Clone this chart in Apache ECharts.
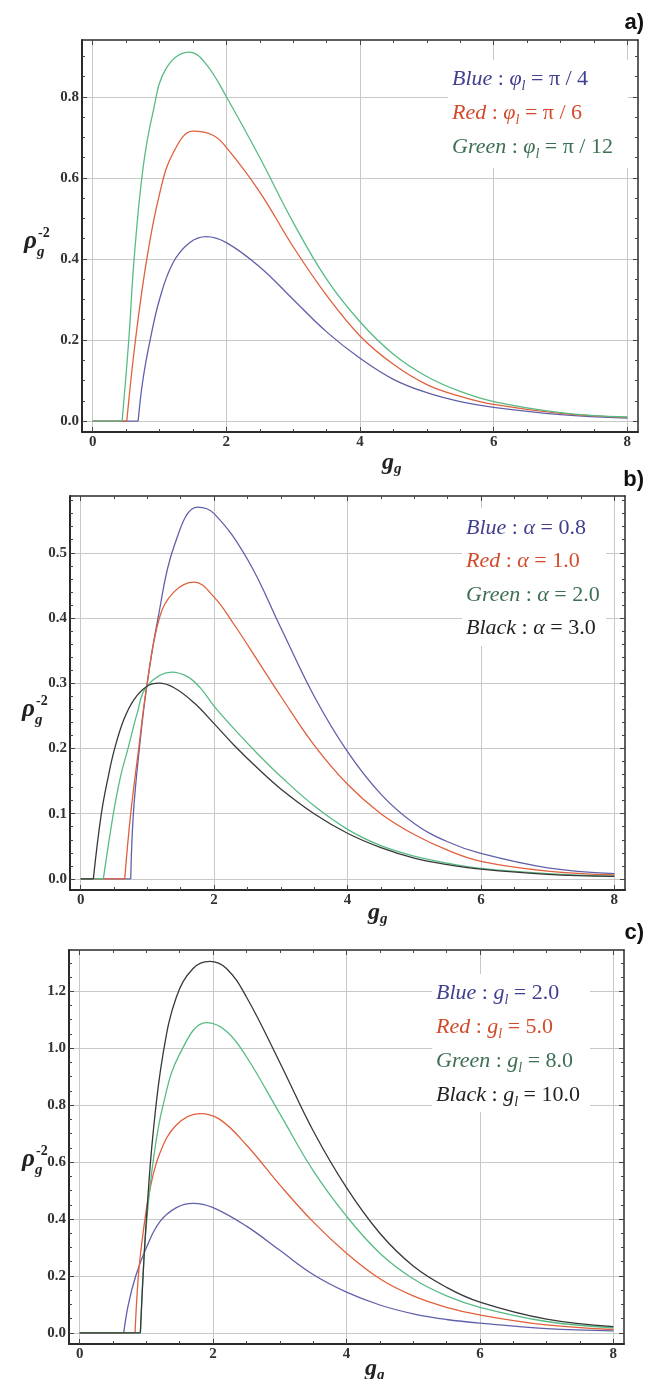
<!DOCTYPE html>
<html><head><meta charset="utf-8">
<script src="https://cdn.jsdelivr.net/npm/echarts@6/dist/echarts.min.js"></script>
<style>html,body{margin:0;padding:0;background:#fff}#c{width:650px;height:1379px}</style>
</head><body><div id="c"></div>
<script>
// ---- data ----
const xTicks = [0, 2, 4, 6, 8];
const aYTicks = [0, 0.2, 0.4, 0.6, 0.8];
const bYTicks = [0, 0.1, 0.2, 0.3, 0.4, 0.5];
const cYTicks = [0, 0.2, 0.4, 0.6, 0.8, 1.0, 1.2];

const aBlue = [[0,0],[0.68,0],[0.75,0.1],[0.86,0.2],[1.0,0.3],[1.2,0.39],[1.45,0.44],[1.7,0.455],[2.0,0.44],[2.5,0.38],[3.0,0.30],[3.5,0.22],[4.0,0.155],[4.5,0.103],[5.0,0.07],[5.5,0.048],[6.0,0.034],[7.0,0.016],[8.0,0.007]];
const aRed = [[0,0],[0.51,0],[0.64,0.2],[0.81,0.4],[1.0,0.56],[1.2,0.66],[1.5,0.715],[1.8,0.705],[2.0,0.675],[2.5,0.565],[3.0,0.43],[3.5,0.31],[4.0,0.21],[4.5,0.14],[5.0,0.09],[5.5,0.061],[6.0,0.041],[7.0,0.019],[8.0,0.009]];
const aGreen = [[0,0],[0.44,0],[0.54,0.2],[0.62,0.4],[0.75,0.62],[0.9,0.76],[1.1,0.87],[1.45,0.91],[1.7,0.88],[2.0,0.80],[2.5,0.65],[3.0,0.49],[3.5,0.35],[4.0,0.245],[4.5,0.165],[5.0,0.11],[5.5,0.073],[6.0,0.048],[7.0,0.021],[8.0,0.01]];

const bBlue = [[0,0],[0.75,0],[0.79,0.1],[0.88,0.2],[0.99,0.295],[1.16,0.4],[1.4,0.51],[1.75,0.57],[2.0,0.56],[2.5,0.49],[3.0,0.385],[3.5,0.28],[4.0,0.195],[4.5,0.13],[5.0,0.085],[5.5,0.057],[6.0,0.039],[7.0,0.017],[8.0,0.008]];
const bRed = [[0,0],[0.66,0],[0.75,0.1],[0.87,0.2],[0.99,0.295],[1.18,0.40],[1.4,0.44],[1.7,0.455],[2.0,0.432],[2.3,0.39],[2.67,0.332],[3.0,0.28],[3.5,0.205],[4.0,0.145],[4.5,0.1],[5.0,0.068],[5.5,0.044],[6.0,0.027],[7.0,0.012],[8.0,0.006]];
const bGreen = [[0,0],[0.34,0],[0.49,0.1],[0.6,0.158],[0.71,0.2],[0.85,0.255],[0.99,0.295],[1.36,0.317],[1.6,0.31],[1.8,0.292],[2.0,0.265],[2.3,0.23],[2.67,0.19],[3.0,0.157],[3.5,0.112],[4.0,0.076],[4.5,0.051],[5.0,0.035],[5.5,0.024],[6.0,0.016],[7.0,0.008],[8.0,0.004]];
const bBlack = [[0,0],[0.19,0],[0.31,0.1],[0.42,0.16],[0.51,0.2],[0.65,0.245],[0.8,0.275],[0.99,0.295],[1.17,0.30],[1.4,0.293],[1.7,0.27],[2.0,0.238],[2.3,0.205],[2.67,0.168],[3.0,0.138],[3.5,0.1],[4.0,0.07],[4.5,0.048],[5.0,0.032],[5.5,0.022],[6.0,0.015],[7.0,0.007],[8.0,0.004]];

const cBlue = [[0,0],[0.66,0],[0.73,0.1],[0.84,0.2],[1.0,0.3],[1.2,0.39],[1.45,0.44],[1.7,0.455],[2.0,0.44],[2.5,0.375],[3.0,0.29],[3.5,0.205],[4.0,0.143],[4.5,0.098],[5.0,0.067],[5.5,0.047],[6.0,0.034],[7.0,0.015],[8.0,0.007]];
const cRed = [[0,0],[0.83,0],[0.88,0.2],[0.95,0.35],[1.05,0.5],[1.2,0.63],[1.45,0.73],[1.8,0.77],[2.1,0.75],[2.5,0.66],[3.0,0.52],[3.5,0.39],[4.0,0.28],[4.5,0.19],[5.0,0.13],[5.5,0.09],[6.0,0.063],[7.0,0.028],[8.0,0.012]];
const cGreen = [[0,0],[0.91,0],[0.95,0.2],[1.0,0.38],[1.1,0.6],[1.25,0.8],[1.5,0.98],[1.9,1.09],[2.2,1.06],[2.5,0.97],[3.0,0.77],[3.5,0.57],[4.0,0.41],[4.5,0.28],[5.0,0.19],[5.5,0.13],[6.0,0.09],[7.0,0.04],[8.0,0.018]];
const cBlack = [[0,0],[0.91,0],[0.95,0.2],[1.0,0.4],[1.1,0.7],[1.25,0.98],[1.45,1.18],[1.7,1.28],[1.95,1.305],[2.2,1.28],[2.5,1.18],[3.0,0.95],[3.5,0.71],[4.0,0.51],[4.5,0.35],[5.0,0.235],[5.5,0.16],[6.0,0.108],[7.0,0.048],[8.0,0.022]];

const aLegend = [['Blue','{i|φ}{s|l} = π / 4'],['Red','{i|φ}{s|l} = π / 6'],['Green','{i|φ}{s|l} = π / 12']];
const bLegend = [['Blue','{i|α} = 0.8'],['Red','{i|α} = 1.0'],['Green','{i|α} = 2.0'],['Black','{i|α} = 3.0']];
const cLegend = [['Blue','{i|g}{s|l} = 2.0'],['Red','{i|g}{s|l} = 5.0'],['Green','{i|g}{s|l} = 8.0'],['Black','{i|g}{s|l} = 10.0']];

// ---- styling ----
const LINE = {Blue:'#6060aa', Red:'#e0603c', Green:'#58bb85', Black:'#383838'};
const TXT = {Blue:'#40408f', Red:'#d24c2c', Green:'#3d6f52', Black:'#222'};
const SERIF = '"Liberation Serif", "DejaVu Serif", serif';

function minorOf(major, n) {
  const out = [];
  const step = (major[1] - major[0]) / (n + 1);
  const lo = major[0] - step * (n + 1), hi = major[major.length - 1] + step * (n + 1);
  for (let v = lo; v <= hi + 1e-9; v += step) {
    const r = Math.round(v * 1e6) / 1e6;
    if (!major.some(m => Math.abs(m - r) < 1e-6)) out.push(r);
  }
  return out;
}

const panels = [
  {grid:{left:82, top:40, width:556, height:392}, yMin:-0.027, yMax:0.94, yTicks:aYTicks, yMinorN:3,
   series:[['Blue',aBlue],['Red',aRed],['Green',aGreen]], legend:aLegend,
   leg:{x:452, y0:79, dy:34, box:[448,60,180,108]}, tag:{x:644, y:23, t:'a)'},
   xt:{x:394, y:463}, yt:{x:24, y:242}},
  {grid:{left:70, top:496, width:555, height:394}, yMin:-0.017, yMax:0.587, yTicks:bYTicks, yMinorN:4,
   series:[['Blue',bBlue],['Red',bRed],['Green',bGreen],['Black',bBlack]], legend:bLegend,
   leg:{x:466, y0:528, dy:33.5, box:[462,508,144,138]}, tag:{x:644, y:480, t:'b)'},
   xt:{x:380, y:913}, yt:{x:22, y:710}},
  {grid:{left:69, top:950, width:555, height:394}, yMin:-0.039, yMax:1.345, yTicks:cYTicks, yMinorN:3,
   series:[['Blue',cBlue],['Red',cRed],['Green',cGreen],['Black',cBlack]], legend:cLegend,
   leg:{x:436, y0:993, dy:34, box:[432,974,158,138]}, tag:{x:644, y:933, t:'c)'},
   xt:{x:377, y:1369}, yt:{x:22, y:1160}}
];

const labelFont = {fontFamily: SERIF, fontWeight: 'bold', fontSize: 15, color: '#333'};

function axes(gi, min, max, major, minor, pMain, pOpp, fmt) {
  const mk = (pos, ticks, len, line, label, split) => ({
    gridIndex: gi, type: 'value', min, max, position: pos,
    axisLine: {show: line, onZero: false, lineStyle: {color: '#2a2a2a', width: label ? 2 : 1.5}},
    axisTick: {show: true, inside: true, length: len, customValues: ticks, lineStyle: {color: '#444', width: 1}},
    axisLabel: label ? Object.assign({show: true, customValues: major, formatter: fmt, margin: 3}, labelFont) : {show: false},
    splitLine: {show: split, lineStyle: {color: '#c8c8c8', width: 1}}
  });
  return [mk(pMain, major, 5, true, true, true), mk(pMain, minor, 3, false, false, false),
          mk(pOpp, major, 5, true, false, false), mk(pOpp, minor, 3, false, false, false)];
}

const grid = [], xAxis = [], yAxis = [], series = [], graphic = [];
const xMinor = minorOf(xTicks, 3).filter(v => v > -0.16 && v < 8.16);

panels.forEach((p, gi) => {
  grid.push(Object.assign({}, p.grid));
  xAxis.push(...axes(gi, -0.16, 8.16, xTicks, xMinor, 'bottom', 'top', v => String(Math.round(v))));
  const yMinor = minorOf(p.yTicks, p.yMinorN).filter(v => v > p.yMin && v < p.yMax);
  yAxis.push(...axes(gi, p.yMin, p.yMax, p.yTicks, yMinor, 'left', 'right', v => v.toFixed(1)));
  p.series.forEach(([name, data]) => {
    const common = {type: 'line', xAxisIndex: gi * 4, yAxisIndex: gi * 4, showSymbol: false, z: 3,
      lineStyle: {color: LINE[name], width: 1.3}, itemStyle: {color: LINE[name]}};
    // flat part before the threshold, then the smooth curve from the threshold on
    series.push(Object.assign({name: name + ' flat', data: data.slice(0, 2), smooth: false}, common));
    series.push(Object.assign({name: name, data: data.slice(1), smooth: 0.4}, common));
  });
  const b = p.leg.box;
  graphic.push({type: 'rect', z: 1, shape: {x: b[0], y: b[1], width: b[2], height: b[3]}, style: {fill: '#fff'}});
  p.legend.forEach(([name, rest], k) => {
    graphic.push({type: 'text', z: 5, x: p.leg.x, y: p.leg.y0 + k * p.leg.dy,
      style: {text: '{i|' + name + '} : ' + rest, fill: TXT[name], font: '22px ' + SERIF,
        align: 'left', verticalAlign: 'middle', lineHeight: 28,
        rich: {
          i: {fontFamily: SERIF, fontStyle: 'italic', fontSize: 22, lineHeight: 28},
          s: {fontFamily: SERIF, fontStyle: 'italic', fontSize: 14, lineHeight: 16, verticalAlign: 'bottom'}
        }}});
  });
  graphic.push({type: 'text', z: 5, x: p.tag.x, y: p.tag.y,
    style: {text: p.tag.t, font: 'bold 22px "Liberation Sans", Arial, sans-serif', fill: '#111', align: 'right', verticalAlign: 'middle'}});
  graphic.push({type: 'text', z: 5, x: p.xt.x - 12, y: p.xt.y,
    style: {text: 'g', font: 'italic bold 24px ' + SERIF, fill: '#222', align: 'left', verticalAlign: 'middle'}});
  graphic.push({type: 'text', z: 5, x: p.xt.x, y: p.xt.y + 6,
    style: {text: 'g', font: 'italic bold 15px ' + SERIF, fill: '#222', align: 'left', verticalAlign: 'middle'}});
  graphic.push({type: 'text', z: 5, x: p.yt.x, y: p.yt.y,
    style: {text: 'ρ', font: 'italic bold 25px ' + SERIF, fill: '#222', align: 'left', verticalAlign: 'middle'}});
  graphic.push({type: 'text', z: 5, x: p.yt.x + 13, y: p.yt.y + 10,
    style: {text: 'g', font: 'italic bold 15px ' + SERIF, fill: '#222', align: 'left', verticalAlign: 'middle'}});
  graphic.push({type: 'text', z: 5, x: p.yt.x + 14, y: p.yt.y - 9,
    style: {text: '-2', font: 'bold 14px ' + SERIF, fill: '#222', align: 'left', verticalAlign: 'middle'}});
});

const chart = echarts.init(document.getElementById('c'), null, {renderer: 'canvas'});
chart.setOption({animation: false, backgroundColor: '#fff', grid, xAxis, yAxis, series, graphic});
</script>
</body></html>
